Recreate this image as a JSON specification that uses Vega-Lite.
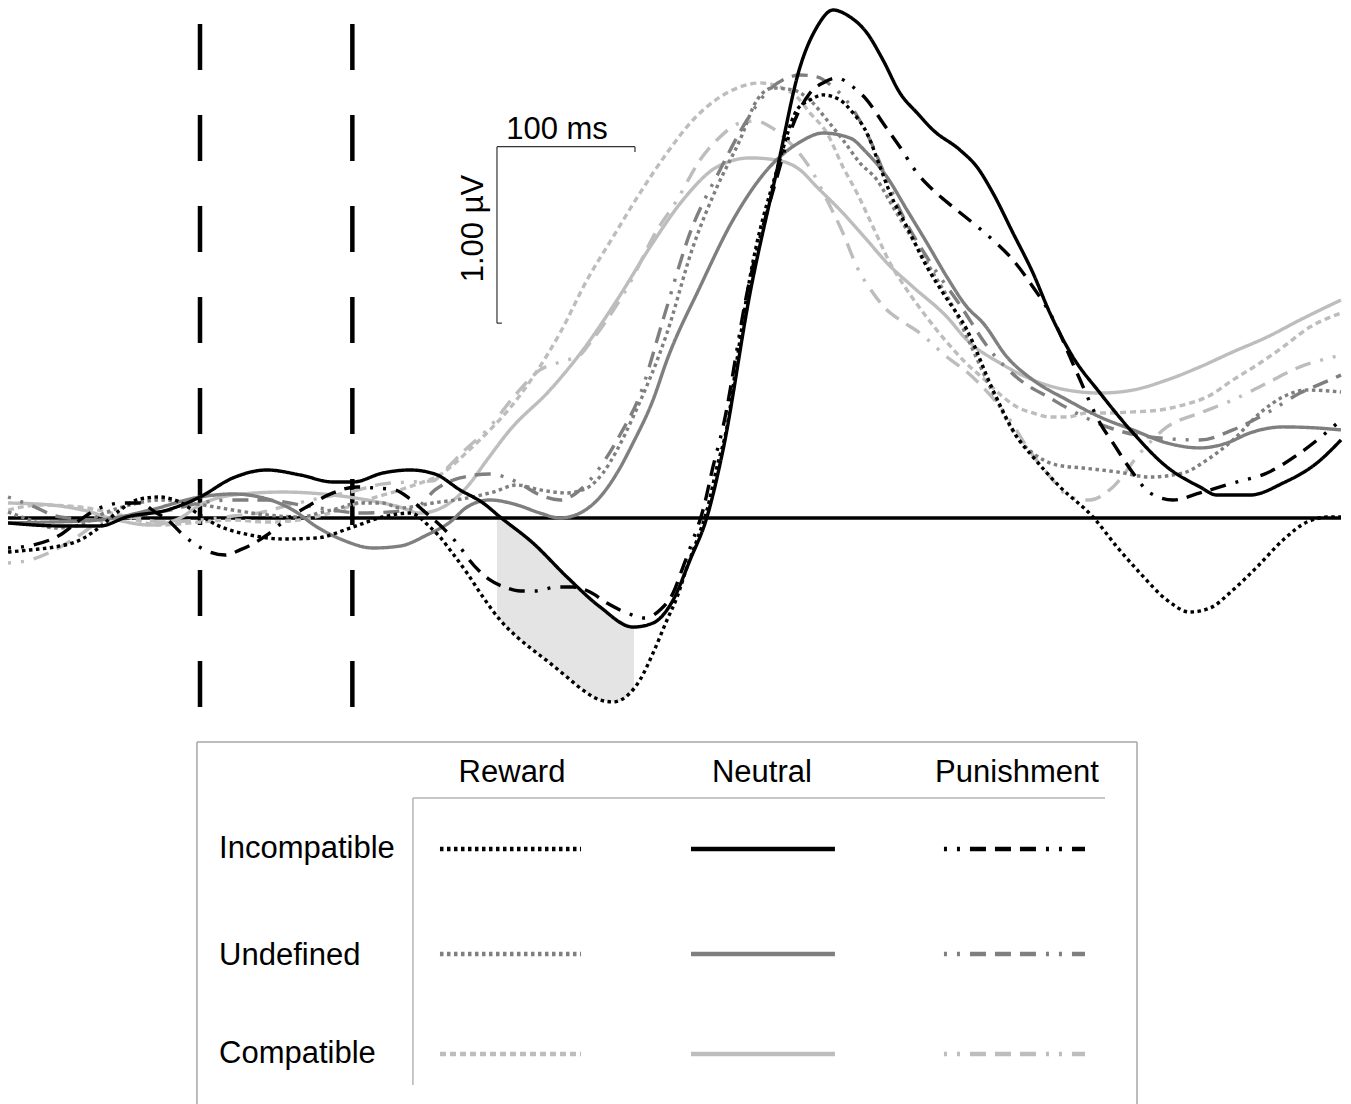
{
"$schema": "https://vega.github.io/schema/vega-lite/v6.json",
"width": 1351, "height": 1104, "autosize": "none", "padding": 0,
"background": "white",
"config": {"view": {"stroke": null}},
"datasets": {
"curves": [
{"s":"Compatible Reward","x":-139.1,"y":0.045},{"s":"Compatible Reward","x":-115.9,"y":0.074},{"s":"Compatible Reward","x":-87.0,"y":0.062},{"s":"Compatible Reward","x":-58.0,"y":0.017},{"s":"Compatible Reward","x":-29.0,"y":-0.040},{"s":"Compatible Reward","x":0,"y":-0.023},{"s":"Compatible Reward","x":23.9,"y":-0.011},{"s":"Compatible Reward","x":48.6,"y":-0.023},{"s":"Compatible Reward","x":72.5,"y":-0.011},{"s":"Compatible Reward","x":96.4,"y":0.034},{"s":"Compatible Reward","x":121.0,"y":0.102},{"s":"Compatible Reward","x":144.9,"y":0.159},{"s":"Compatible Reward","x":159.4,"y":0.198},{"s":"Compatible Reward","x":173.9,"y":0.244},{"s":"Compatible Reward","x":183.3,"y":0.300},{"s":"Compatible Reward","x":193.5,"y":0.374},{"s":"Compatible Reward","x":210.1,"y":0.499},{"s":"Compatible Reward","x":224.6,"y":0.623},{"s":"Compatible Reward","x":241.3,"y":0.799},{"s":"Compatible Reward","x":260.9,"y":1.048},{"s":"Compatible Reward","x":280.4,"y":1.348},{"s":"Compatible Reward","x":299.3,"y":1.592},{"s":"Compatible Reward","x":318.8,"y":1.841},{"s":"Compatible Reward","x":338.4,"y":2.068},{"s":"Compatible Reward","x":357.2,"y":2.255},{"s":"Compatible Reward","x":376.8,"y":2.385},{"s":"Compatible Reward","x":391.3,"y":2.442},{"s":"Compatible Reward","x":405.8,"y":2.465},{"s":"Compatible Reward","x":420.3,"y":2.442},{"s":"Compatible Reward","x":432.6,"y":2.385},{"s":"Compatible Reward","x":442.0,"y":2.295},{"s":"Compatible Reward","x":454.3,"y":2.181},{"s":"Compatible Reward","x":465.9,"y":1.989},{"s":"Compatible Reward","x":476.1,"y":1.841},{"s":"Compatible Reward","x":487.7,"y":1.649},{"s":"Compatible Reward","x":500.0,"y":1.445},{"s":"Compatible Reward","x":512.3,"y":1.292},{"s":"Compatible Reward","x":525.4,"y":1.150},{"s":"Compatible Reward","x":539.9,"y":1.008},{"s":"Compatible Reward","x":554.3,"y":0.884},{"s":"Compatible Reward","x":568.8,"y":0.782},{"s":"Compatible Reward","x":581.9,"y":0.686},{"s":"Compatible Reward","x":592.0,"y":0.629},{"s":"Compatible Reward","x":603.6,"y":0.595},{"s":"Compatible Reward","x":615.9,"y":0.572},{"s":"Compatible Reward","x":628.3,"y":0.572},{"s":"Compatible Reward","x":642.7,"y":0.595},{"s":"Compatible Reward","x":657.2,"y":0.595},{"s":"Compatible Reward","x":676.1,"y":0.601},{"s":"Compatible Reward","x":695.7,"y":0.612},{"s":"Compatible Reward","x":712.3,"y":0.640},{"s":"Compatible Reward","x":729.7,"y":0.686},{"s":"Compatible Reward","x":748.5,"y":0.782},{"s":"Compatible Reward","x":768.1,"y":0.878},{"s":"Compatible Reward","x":784.8,"y":0.969},{"s":"Compatible Reward","x":804.3,"y":1.082},{"s":"Compatible Reward","x":826.8,"y":1.161},

{"s":"Compatible Neutral","x":-139.1,"y":0.085},{"s":"Compatible Neutral","x":-108.7,"y":0.074},{"s":"Compatible Neutral","x":-84.8,"y":0.045},{"s":"Compatible Neutral","x":-60.1,"y":-0.011},{"s":"Compatible Neutral","x":-36.2,"y":-0.040},{"s":"Compatible Neutral","x":-14.5,"y":0},{"s":"Compatible Neutral","x":0,"y":0.074},{"s":"Compatible Neutral","x":23.9,"y":0.130},{"s":"Compatible Neutral","x":60.1,"y":0.147},{"s":"Compatible Neutral","x":96.4,"y":0.130},{"s":"Compatible Neutral","x":121.0,"y":0.102},{"s":"Compatible Neutral","x":144.9,"y":0.062},{"s":"Compatible Neutral","x":159.4,"y":0.028},{"s":"Compatible Neutral","x":176.1,"y":0.062},{"s":"Compatible Neutral","x":193.5,"y":0.176},{"s":"Compatible Neutral","x":208.0,"y":0.329},{"s":"Compatible Neutral","x":224.6,"y":0.499},{"s":"Compatible Neutral","x":253.6,"y":0.725},{"s":"Compatible Neutral","x":277.5,"y":0.952},{"s":"Compatible Neutral","x":302.2,"y":1.235},{"s":"Compatible Neutral","x":326.1,"y":1.535},{"s":"Compatible Neutral","x":350.0,"y":1.802},{"s":"Compatible Neutral","x":374.6,"y":1.989},{"s":"Compatible Neutral","x":398.6,"y":2.040},{"s":"Compatible Neutral","x":418.1,"y":2.028},{"s":"Compatible Neutral","x":434.8,"y":1.972},{"s":"Compatible Neutral","x":447.1,"y":1.875},{"s":"Compatible Neutral","x":465.9,"y":1.728},{"s":"Compatible Neutral","x":483.3,"y":1.575},{"s":"Compatible Neutral","x":497.8,"y":1.445},{"s":"Compatible Neutral","x":516.7,"y":1.309},{"s":"Compatible Neutral","x":541.3,"y":1.139},{"s":"Compatible Neutral","x":555.8,"y":1.008},{"s":"Compatible Neutral","x":579.7,"y":0.878},{"s":"Compatible Neutral","x":603.6,"y":0.782},{"s":"Compatible Neutral","x":628.3,"y":0.725},{"s":"Compatible Neutral","x":652.2,"y":0.708},{"s":"Compatible Neutral","x":676.1,"y":0.725},{"s":"Compatible Neutral","x":700.7,"y":0.782},{"s":"Compatible Neutral","x":724.6,"y":0.856},{"s":"Compatible Neutral","x":748.5,"y":0.941},{"s":"Compatible Neutral","x":773.2,"y":1.025},{"s":"Compatible Neutral","x":797.1,"y":1.122},{"s":"Compatible Neutral","x":826.8,"y":1.235},

{"s":"Compatible Punishment","x":-139.1,"y":-0.255},{"s":"Compatible Punishment","x":-123.2,"y":-0.238},{"s":"Compatible Punishment","x":-105.1,"y":-0.181},{"s":"Compatible Punishment","x":-87.0,"y":-0.096},{"s":"Compatible Punishment","x":-72.5,"y":-0.023},{"s":"Compatible Punishment","x":-50.7,"y":0.006},{"s":"Compatible Punishment","x":-29.0,"y":-0.023},{"s":"Compatible Punishment","x":0,"y":-0.011},{"s":"Compatible Punishment","x":23.9,"y":0.011},{"s":"Compatible Punishment","x":42.0,"y":0.028},{"s":"Compatible Punishment","x":65.2,"y":0.074},{"s":"Compatible Punishment","x":87.0,"y":0.113},{"s":"Compatible Punishment","x":108.7,"y":0.147},{"s":"Compatible Punishment","x":132.6,"y":0.193},{"s":"Compatible Punishment","x":152.2,"y":0.204},{"s":"Compatible Punishment","x":168.8,"y":0.210},{"s":"Compatible Punishment","x":177.5,"y":0.272},{"s":"Compatible Punishment","x":192.0,"y":0.385},{"s":"Compatible Punishment","x":208.0,"y":0.499},{"s":"Compatible Punishment","x":229.7,"y":0.708},{"s":"Compatible Punishment","x":246.4,"y":0.839},{"s":"Compatible Punishment","x":260.9,"y":0.884},{"s":"Compatible Punishment","x":275.4,"y":0.924},{"s":"Compatible Punishment","x":282.6,"y":0.992},{"s":"Compatible Punishment","x":313.8,"y":1.365},{"s":"Compatible Punishment","x":328.3,"y":1.592},{"s":"Compatible Punishment","x":345.7,"y":1.802},{"s":"Compatible Punishment","x":362.3,"y":2.028},{"s":"Compatible Punishment","x":376.8,"y":2.159},{"s":"Compatible Punishment","x":391.3,"y":2.238},{"s":"Compatible Punishment","x":403.6,"y":2.249},{"s":"Compatible Punishment","x":410.9,"y":2.227},{"s":"Compatible Punishment","x":425.4,"y":2.142},{"s":"Compatible Punishment","x":444.2,"y":1.955},{"s":"Compatible Punishment","x":454.3,"y":1.802},{"s":"Compatible Punishment","x":465.9,"y":1.615},{"s":"Compatible Punishment","x":476.1,"y":1.422},{"s":"Compatible Punishment","x":487.7,"y":1.275},{"s":"Compatible Punishment","x":497.8,"y":1.178},{"s":"Compatible Punishment","x":507.2,"y":1.122},{"s":"Compatible Punishment","x":521.7,"y":1.048},{"s":"Compatible Punishment","x":541.3,"y":0.912},{"s":"Compatible Punishment","x":555.8,"y":0.827},{"s":"Compatible Punishment","x":572.5,"y":0.697},{"s":"Compatible Punishment","x":587.0,"y":0.555},{"s":"Compatible Punishment","x":599.3,"y":0.402},{"s":"Compatible Punishment","x":613.8,"y":0.255},{"s":"Compatible Punishment","x":630.4,"y":0.119},{"s":"Compatible Punishment","x":644.9,"y":0.102},{"s":"Compatible Punishment","x":661.6,"y":0.176},{"s":"Compatible Punishment","x":681.2,"y":0.368},{"s":"Compatible Punishment","x":700.7,"y":0.516},{"s":"Compatible Punishment","x":724.6,"y":0.595},{"s":"Compatible Punishment","x":748.5,"y":0.669},{"s":"Compatible Punishment","x":773.2,"y":0.765},{"s":"Compatible Punishment","x":797.1,"y":0.856},{"s":"Compatible Punishment","x":821.0,"y":0.912},{"s":"Compatible Punishment","x":826.8,"y":0.924},

{"s":"Undefined Reward","x":-139.1,"y":0.034},{"s":"Undefined Reward","x":-123.2,"y":-0.011},{"s":"Undefined Reward","x":-105.1,"y":-0.057},{"s":"Undefined Reward","x":-87.0,"y":-0.040},{"s":"Undefined Reward","x":-72.5,"y":0.017},{"s":"Undefined Reward","x":-50.7,"y":0.074},{"s":"Undefined Reward","x":-29.0,"y":0.102},{"s":"Undefined Reward","x":-7.2,"y":0.085},{"s":"Undefined Reward","x":23.9,"y":0.045},{"s":"Undefined Reward","x":48.6,"y":0.017},{"s":"Undefined Reward","x":72.5,"y":0.006},{"s":"Undefined Reward","x":89.1,"y":0.034},{"s":"Undefined Reward","x":101.4,"y":0.057},{"s":"Undefined Reward","x":113.8,"y":0.085},{"s":"Undefined Reward","x":132.6,"y":0.085},{"s":"Undefined Reward","x":144.9,"y":0.057},{"s":"Undefined Reward","x":168.8,"y":0.085},{"s":"Undefined Reward","x":193.5,"y":0.113},{"s":"Undefined Reward","x":212.3,"y":0.147},{"s":"Undefined Reward","x":229.7,"y":0.187},{"s":"Undefined Reward","x":246.4,"y":0.159},{"s":"Undefined Reward","x":265.9,"y":0.142},{"s":"Undefined Reward","x":280.4,"y":0.170},{"s":"Undefined Reward","x":292.0,"y":0.255},{"s":"Undefined Reward","x":302.2,"y":0.385},{"s":"Undefined Reward","x":313.8,"y":0.572},{"s":"Undefined Reward","x":338.4,"y":1.048},{"s":"Undefined Reward","x":357.2,"y":1.535},{"s":"Undefined Reward","x":374.6,"y":1.875},{"s":"Undefined Reward","x":391.3,"y":2.142},{"s":"Undefined Reward","x":403.6,"y":2.368},{"s":"Undefined Reward","x":415.2,"y":2.436},{"s":"Undefined Reward","x":429.7,"y":2.425},{"s":"Undefined Reward","x":442.0,"y":2.368},{"s":"Undefined Reward","x":454.3,"y":2.255},{"s":"Undefined Reward","x":465.9,"y":2.142},{"s":"Undefined Reward","x":478.3,"y":2.011},{"s":"Undefined Reward","x":490.6,"y":1.915},{"s":"Undefined Reward","x":502.2,"y":1.762},{"s":"Undefined Reward","x":516.7,"y":1.575},{"s":"Undefined Reward","x":531.2,"y":1.388},{"s":"Undefined Reward","x":545.7,"y":1.195},{"s":"Undefined Reward","x":555.8,"y":1.025},{"s":"Undefined Reward","x":574.6,"y":0.708},{"s":"Undefined Reward","x":592.0,"y":0.459},{"s":"Undefined Reward","x":603.6,"y":0.368},{"s":"Undefined Reward","x":621.0,"y":0.300},{"s":"Undefined Reward","x":639.9,"y":0.283},{"s":"Undefined Reward","x":664.5,"y":0.261},{"s":"Undefined Reward","x":688.4,"y":0.232},{"s":"Undefined Reward","x":712.3,"y":0.255},{"s":"Undefined Reward","x":729.7,"y":0.329},{"s":"Undefined Reward","x":748.5,"y":0.442},{"s":"Undefined Reward","x":768.1,"y":0.595},{"s":"Undefined Reward","x":784.8,"y":0.686},{"s":"Undefined Reward","x":802.2,"y":0.725},{"s":"Undefined Reward","x":826.8,"y":0.714},

{"s":"Undefined Neutral","x":-139.1,"y":-0.028},{"s":"Undefined Neutral","x":-108.7,"y":-0.023},{"s":"Undefined Neutral","x":-72.5,"y":-0.011},{"s":"Undefined Neutral","x":-36.2,"y":0.045},{"s":"Undefined Neutral","x":0,"y":0.119},{"s":"Undefined Neutral","x":23.9,"y":0.136},{"s":"Undefined Neutral","x":48.6,"y":0.108},{"s":"Undefined Neutral","x":67.4,"y":0.045},{"s":"Undefined Neutral","x":84.8,"y":-0.051},{"s":"Undefined Neutral","x":103.6,"y":-0.125},{"s":"Undefined Neutral","x":125.4,"y":-0.170},{"s":"Undefined Neutral","x":144.9,"y":-0.159},{"s":"Undefined Neutral","x":164.5,"y":-0.096},{"s":"Undefined Neutral","x":181.2,"y":-0.023},{"s":"Undefined Neutral","x":193.5,"y":0.062},{"s":"Undefined Neutral","x":210.1,"y":0.102},{"s":"Undefined Neutral","x":229.7,"y":0.074},{"s":"Undefined Neutral","x":246.4,"y":0.028},{"s":"Undefined Neutral","x":260.9,"y":0},{"s":"Undefined Neutral","x":275.4,"y":0.028},{"s":"Undefined Neutral","x":289.9,"y":0.119},{"s":"Undefined Neutral","x":302.2,"y":0.255},{"s":"Undefined Neutral","x":313.8,"y":0.425},{"s":"Undefined Neutral","x":328.3,"y":0.669},{"s":"Undefined Neutral","x":338.4,"y":0.895},{"s":"Undefined Neutral","x":362.3,"y":1.309},{"s":"Undefined Neutral","x":386.2,"y":1.688},{"s":"Undefined Neutral","x":410.9,"y":1.972},{"s":"Undefined Neutral","x":434.8,"y":2.130},{"s":"Undefined Neutral","x":451.4,"y":2.181},{"s":"Undefined Neutral","x":471.0,"y":2.153},{"s":"Undefined Neutral","x":483.3,"y":2.068},{"s":"Undefined Neutral","x":497.8,"y":1.932},{"s":"Undefined Neutral","x":512.3,"y":1.745},{"s":"Undefined Neutral","x":526.8,"y":1.558},{"s":"Undefined Neutral","x":541.3,"y":1.365},{"s":"Undefined Neutral","x":555.8,"y":1.195},{"s":"Undefined Neutral","x":567.4,"y":1.105},{"s":"Undefined Neutral","x":584.8,"y":0.912},{"s":"Undefined Neutral","x":603.6,"y":0.782},{"s":"Undefined Neutral","x":628.3,"y":0.669},{"s":"Undefined Neutral","x":652.2,"y":0.572},{"s":"Undefined Neutral","x":676.1,"y":0.499},{"s":"Undefined Neutral","x":700.7,"y":0.425},{"s":"Undefined Neutral","x":724.6,"y":0.397},{"s":"Undefined Neutral","x":744.2,"y":0.425},{"s":"Undefined Neutral","x":760.9,"y":0.482},{"s":"Undefined Neutral","x":784.8,"y":0.516},{"s":"Undefined Neutral","x":809.4,"y":0.510},{"s":"Undefined Neutral","x":826.8,"y":0.499},

{"s":"Undefined Punishment","x":-139.1,"y":0.119},{"s":"Undefined Punishment","x":-123.2,"y":0.074},{"s":"Undefined Punishment","x":-101.4,"y":0.006},{"s":"Undefined Punishment","x":-72.5,"y":-0.011},{"s":"Undefined Punishment","x":-43.5,"y":0.017},{"s":"Undefined Punishment","x":-21.7,"y":0.045},{"s":"Undefined Punishment","x":0,"y":0.085},{"s":"Undefined Punishment","x":23.9,"y":0.102},{"s":"Undefined Punishment","x":48.6,"y":0.102},{"s":"Undefined Punishment","x":72.5,"y":0.074},{"s":"Undefined Punishment","x":96.4,"y":0.045},{"s":"Undefined Punishment","x":115.9,"y":0.028},{"s":"Undefined Punishment","x":137.7,"y":0.034},{"s":"Undefined Punishment","x":157.2,"y":0.062},{"s":"Undefined Punishment","x":170.3,"y":0.159},{"s":"Undefined Punishment","x":188.4,"y":0.227},{"s":"Undefined Punishment","x":210.1,"y":0.249},{"s":"Undefined Punishment","x":229.7,"y":0.204},{"s":"Undefined Punishment","x":246.4,"y":0.130},{"s":"Undefined Punishment","x":260.9,"y":0.102},{"s":"Undefined Punishment","x":271.7,"y":0.136},{"s":"Undefined Punishment","x":282.6,"y":0.215},{"s":"Undefined Punishment","x":293.5,"y":0.329},{"s":"Undefined Punishment","x":304.3,"y":0.470},{"s":"Undefined Punishment","x":318.8,"y":0.697},{"s":"Undefined Punishment","x":335.5,"y":1.122},{"s":"Undefined Punishment","x":355.1,"y":1.615},{"s":"Undefined Punishment","x":376.8,"y":1.972},{"s":"Undefined Punishment","x":396.4,"y":2.255},{"s":"Undefined Punishment","x":410.9,"y":2.414},{"s":"Undefined Punishment","x":425.4,"y":2.493},{"s":"Undefined Punishment","x":434.8,"y":2.510},{"s":"Undefined Punishment","x":447.1,"y":2.499},{"s":"Undefined Punishment","x":458.7,"y":2.442},{"s":"Undefined Punishment","x":471.0,"y":2.340},{"s":"Undefined Punishment","x":485.5,"y":2.142},{"s":"Undefined Punishment","x":497.8,"y":1.915},{"s":"Undefined Punishment","x":507.2,"y":1.745},{"s":"Undefined Punishment","x":529.0,"y":1.450},{"s":"Undefined Punishment","x":550.7,"y":1.207},{"s":"Undefined Punishment","x":572.5,"y":0.952},{"s":"Undefined Punishment","x":594.2,"y":0.782},{"s":"Undefined Punishment","x":615.9,"y":0.680},{"s":"Undefined Punishment","x":637.7,"y":0.584},{"s":"Undefined Punishment","x":659.4,"y":0.510},{"s":"Undefined Punishment","x":688.4,"y":0.459},{"s":"Undefined Punishment","x":724.6,"y":0.442},{"s":"Undefined Punishment","x":748.5,"y":0.499},{"s":"Undefined Punishment","x":773.2,"y":0.595},{"s":"Undefined Punishment","x":797.1,"y":0.708},{"s":"Undefined Punishment","x":818.8,"y":0.782},{"s":"Undefined Punishment","x":826.8,"y":0.810},

{"s":"Incompatible Reward","x":-139.1,"y":-0.193},{"s":"Incompatible Reward","x":-123.2,"y":-0.181},{"s":"Incompatible Reward","x":-105.1,"y":-0.164},{"s":"Incompatible Reward","x":-87.0,"y":-0.125},{"s":"Incompatible Reward","x":-72.5,"y":-0.051},{"s":"Incompatible Reward","x":-58.0,"y":0.045},{"s":"Incompatible Reward","x":-43.5,"y":0.108},{"s":"Incompatible Reward","x":-29.0,"y":0.119},{"s":"Incompatible Reward","x":-18.1,"y":0.102},{"s":"Incompatible Reward","x":0,"y":0.017},{"s":"Incompatible Reward","x":12.3,"y":-0.040},{"s":"Incompatible Reward","x":36.2,"y":-0.096},{"s":"Incompatible Reward","x":60.1,"y":-0.119},{"s":"Incompatible Reward","x":84.8,"y":-0.113},{"s":"Incompatible Reward","x":108.7,"y":-0.057},{"s":"Incompatible Reward","x":132.6,"y":0.006},{"s":"Incompatible Reward","x":152.2,"y":0.028},{"s":"Incompatible Reward","x":166.7,"y":-0.051},{"s":"Incompatible Reward","x":173.9,"y":-0.108},{"s":"Incompatible Reward","x":181.2,"y":-0.181},{"s":"Incompatible Reward","x":193.5,"y":-0.312},{"s":"Incompatible Reward","x":205.1,"y":-0.448},{"s":"Incompatible Reward","x":217.4,"y":-0.578},{"s":"Incompatible Reward","x":229.7,"y":-0.674},{"s":"Incompatible Reward","x":241.3,"y":-0.748},{"s":"Incompatible Reward","x":253.6,"y":-0.822},{"s":"Incompatible Reward","x":265.9,"y":-0.901},{"s":"Incompatible Reward","x":277.5,"y":-0.975},{"s":"Incompatible Reward","x":289.9,"y":-1.031},{"s":"Incompatible Reward","x":299.3,"y":-1.042},{"s":"Incompatible Reward","x":311.6,"y":-0.992},{"s":"Incompatible Reward","x":318.8,"y":-0.918},{"s":"Incompatible Reward","x":328.3,"y":-0.765},{"s":"Incompatible Reward","x":338.4,"y":-0.578},{"s":"Incompatible Reward","x":345.7,"y":-0.448},{"s":"Incompatible Reward","x":352.9,"y":-0.278},{"s":"Incompatible Reward","x":360.1,"y":-0.125},{"s":"Incompatible Reward","x":367.4,"y":0.045},{"s":"Incompatible Reward","x":374.6,"y":0.289},{"s":"Incompatible Reward","x":381.9,"y":0.516},{"s":"Incompatible Reward","x":389.1,"y":0.895},{"s":"Incompatible Reward","x":398.6,"y":1.365},{"s":"Incompatible Reward","x":418.1,"y":1.972},{"s":"Incompatible Reward","x":432.6,"y":2.312},{"s":"Incompatible Reward","x":442.0,"y":2.368},{"s":"Incompatible Reward","x":451.4,"y":2.397},{"s":"Incompatible Reward","x":463.8,"y":2.368},{"s":"Incompatible Reward","x":473.2,"y":2.295},{"s":"Incompatible Reward","x":483.3,"y":2.181},{"s":"Incompatible Reward","x":492.8,"y":1.989},{"s":"Incompatible Reward","x":500.0,"y":1.841},{"s":"Incompatible Reward","x":512.3,"y":1.649},{"s":"Incompatible Reward","x":526.8,"y":1.422},{"s":"Incompatible Reward","x":538.4,"y":1.275},{"s":"Incompatible Reward","x":555.8,"y":1.065},{"s":"Incompatible Reward","x":574.6,"y":0.725},{"s":"Incompatible Reward","x":592.0,"y":0.459},{"s":"Incompatible Reward","x":603.6,"y":0.346},{"s":"Incompatible Reward","x":623.2,"y":0.176},{"s":"Incompatible Reward","x":647.1,"y":0.006},{"s":"Incompatible Reward","x":664.5,"y":-0.164},{"s":"Incompatible Reward","x":681.2,"y":-0.312},{"s":"Incompatible Reward","x":700.7,"y":-0.465},{"s":"Incompatible Reward","x":717.4,"y":-0.533},{"s":"Incompatible Reward","x":731.9,"y":-0.510},{"s":"Incompatible Reward","x":748.5,"y":-0.408},{"s":"Incompatible Reward","x":765.9,"y":-0.278},{"s":"Incompatible Reward","x":784.8,"y":-0.125},{"s":"Incompatible Reward","x":802.2,"y":-0.023},{"s":"Incompatible Reward","x":818.8,"y":0.006},{"s":"Incompatible Reward","x":826.8,"y":0.006},

{"s":"Incompatible Neutral","x":-139.1,"y":-0.028},{"s":"Incompatible Neutral","x":-101.4,"y":-0.045},{"s":"Incompatible Neutral","x":-72.5,"y":-0.045},{"s":"Incompatible Neutral","x":-52.9,"y":0.006},{"s":"Incompatible Neutral","x":-23.9,"y":0.045},{"s":"Incompatible Neutral","x":0,"y":0.119},{"s":"Incompatible Neutral","x":23.9,"y":0.227},{"s":"Incompatible Neutral","x":48.6,"y":0.272},{"s":"Incompatible Neutral","x":72.5,"y":0.244},{"s":"Incompatible Neutral","x":96.4,"y":0.204},{"s":"Incompatible Neutral","x":110.9,"y":0.204},{"s":"Incompatible Neutral","x":132.6,"y":0.255},{"s":"Incompatible Neutral","x":152.2,"y":0.272},{"s":"Incompatible Neutral","x":170.3,"y":0.249},{"s":"Incompatible Neutral","x":188.4,"y":0.159},{"s":"Incompatible Neutral","x":205.1,"y":0.085},{"s":"Incompatible Neutral","x":217.4,"y":0.006},{"s":"Incompatible Neutral","x":241.3,"y":-0.142},{"s":"Incompatible Neutral","x":265.9,"y":-0.334},{"s":"Incompatible Neutral","x":289.9,"y":-0.504},{"s":"Incompatible Neutral","x":313.8,"y":-0.618},{"s":"Incompatible Neutral","x":328.3,"y":-0.595},{"s":"Incompatible Neutral","x":342.8,"y":-0.465},{"s":"Incompatible Neutral","x":355.1,"y":-0.238},{"s":"Incompatible Neutral","x":367.4,"y":0.006},{"s":"Incompatible Neutral","x":379.0,"y":0.385},{"s":"Incompatible Neutral","x":398.6,"y":1.275},{"s":"Incompatible Neutral","x":418.1,"y":1.972},{"s":"Incompatible Neutral","x":434.8,"y":2.555},{"s":"Incompatible Neutral","x":447.1,"y":2.782},{"s":"Incompatible Neutral","x":458.7,"y":2.878},{"s":"Incompatible Neutral","x":471.0,"y":2.839},{"s":"Incompatible Neutral","x":483.3,"y":2.748},{"s":"Incompatible Neutral","x":494.9,"y":2.595},{"s":"Incompatible Neutral","x":507.2,"y":2.408},{"s":"Incompatible Neutral","x":519.6,"y":2.295},{"s":"Incompatible Neutral","x":531.2,"y":2.198},{"s":"Incompatible Neutral","x":550.7,"y":2.085},{"s":"Incompatible Neutral","x":563.0,"y":1.989},{"s":"Incompatible Neutral","x":574.6,"y":1.841},{"s":"Incompatible Neutral","x":589.1,"y":1.615},{"s":"Incompatible Neutral","x":603.6,"y":1.388},{"s":"Incompatible Neutral","x":615.9,"y":1.161},{"s":"Incompatible Neutral","x":632.6,"y":0.912},{"s":"Incompatible Neutral","x":652.2,"y":0.708},{"s":"Incompatible Neutral","x":676.1,"y":0.482},{"s":"Incompatible Neutral","x":700.7,"y":0.289},{"s":"Incompatible Neutral","x":724.6,"y":0.176},{"s":"Incompatible Neutral","x":736.9,"y":0.130},{"s":"Incompatible Neutral","x":760.9,"y":0.130},{"s":"Incompatible Neutral","x":784.8,"y":0.198},{"s":"Incompatible Neutral","x":809.4,"y":0.312},{"s":"Incompatible Neutral","x":826.8,"y":0.442},

{"s":"Incompatible Punishment","x":-139.1,"y":-0.170},{"s":"Incompatible Punishment","x":-121.0,"y":-0.153},{"s":"Incompatible Punishment","x":-101.4,"y":-0.096},{"s":"Incompatible Punishment","x":-87.0,"y":-0.011},{"s":"Incompatible Punishment","x":-72.5,"y":0.057},{"s":"Incompatible Punishment","x":-55.8,"y":0.085},{"s":"Incompatible Punishment","x":-43.5,"y":0.085},{"s":"Incompatible Punishment","x":-32.6,"y":0.034},{"s":"Incompatible Punishment","x":-21.7,"y":-0.023},{"s":"Incompatible Punishment","x":-14.5,"y":-0.079},{"s":"Incompatible Punishment","x":-5.8,"y":-0.136},{"s":"Incompatible Punishment","x":7.2,"y":-0.193},{"s":"Incompatible Punishment","x":18.1,"y":-0.210},{"s":"Incompatible Punishment","x":29.0,"y":-0.181},{"s":"Incompatible Punishment","x":48.6,"y":-0.096},{"s":"Incompatible Punishment","x":60.1,"y":-0.023},{"s":"Incompatible Punishment","x":79.7,"y":0.074},{"s":"Incompatible Punishment","x":96.4,"y":0.142},{"s":"Incompatible Punishment","x":113.8,"y":0.176},{"s":"Incompatible Punishment","x":126.8,"y":0.170},{"s":"Incompatible Punishment","x":141.3,"y":0.159},{"s":"Incompatible Punishment","x":152.2,"y":0.108},{"s":"Incompatible Punishment","x":163.0,"y":0.034},{"s":"Incompatible Punishment","x":176.1,"y":-0.057},{"s":"Incompatible Punishment","x":188.4,"y":-0.164},{"s":"Incompatible Punishment","x":193.5,"y":-0.221},{"s":"Incompatible Punishment","x":210.1,"y":-0.351},{"s":"Incompatible Punishment","x":222.5,"y":-0.397},{"s":"Incompatible Punishment","x":231.9,"y":-0.414},{"s":"Incompatible Punishment","x":242.8,"y":-0.414},{"s":"Incompatible Punishment","x":258.7,"y":-0.391},{"s":"Incompatible Punishment","x":270.3,"y":-0.391},{"s":"Incompatible Punishment","x":282.6,"y":-0.419},{"s":"Incompatible Punishment","x":294.9,"y":-0.482},{"s":"Incompatible Punishment","x":309.4,"y":-0.538},{"s":"Incompatible Punishment","x":322.5,"y":-0.567},{"s":"Incompatible Punishment","x":333.3,"y":-0.521},{"s":"Incompatible Punishment","x":342.8,"y":-0.425},{"s":"Incompatible Punishment","x":350.0,"y":-0.278},{"s":"Incompatible Punishment","x":357.2,"y":-0.125},{"s":"Incompatible Punishment","x":364.5,"y":0.045},{"s":"Incompatible Punishment","x":371.7,"y":0.289},{"s":"Incompatible Punishment","x":379.0,"y":0.516},{"s":"Incompatible Punishment","x":396.4,"y":1.275},{"s":"Incompatible Punishment","x":418.1,"y":1.932},{"s":"Incompatible Punishment","x":427.5,"y":2.181},{"s":"Incompatible Punishment","x":442.0,"y":2.408},{"s":"Incompatible Punishment","x":451.4,"y":2.465},{"s":"Incompatible Punishment","x":461.6,"y":2.493},{"s":"Incompatible Punishment","x":473.2,"y":2.442},{"s":"Incompatible Punishment","x":483.3,"y":2.368},{"s":"Incompatible Punishment","x":494.9,"y":2.238},{"s":"Incompatible Punishment","x":507.2,"y":2.102},{"s":"Incompatible Punishment","x":519.6,"y":1.955},{"s":"Incompatible Punishment","x":531.2,"y":1.858},{"s":"Incompatible Punishment","x":545.7,"y":1.762},{"s":"Incompatible Punishment","x":560.1,"y":1.671},{"s":"Incompatible Punishment","x":574.6,"y":1.575},{"s":"Incompatible Punishment","x":589.1,"y":1.462},{"s":"Incompatible Punishment","x":603.6,"y":1.309},{"s":"Incompatible Punishment","x":615.9,"y":1.161},{"s":"Incompatible Punishment","x":635.5,"y":0.822},{"s":"Incompatible Punishment","x":652.2,"y":0.538},{"s":"Incompatible Punishment","x":661.6,"y":0.425},{"s":"Incompatible Punishment","x":676.1,"y":0.255},{"s":"Incompatible Punishment","x":688.4,"y":0.142},{"s":"Incompatible Punishment","x":705.1,"y":0.102},{"s":"Incompatible Punishment","x":724.6,"y":0.142},{"s":"Incompatible Punishment","x":748.5,"y":0.198},{"s":"Incompatible Punishment","x":773.2,"y":0.255},{"s":"Incompatible Punishment","x":797.1,"y":0.368},{"s":"Incompatible Punishment","x":821.0,"y":0.516},{"s":"Incompatible Punishment","x":826.8,"y":0.555}
],
"shade": [
{"x":215.2,"lo":-0.561,"hi":0.017},{"x":229.7,"lo":-0.674,"hi":-0.068},{"x":241.3,"lo":-0.748,"hi":-0.142},{"x":253.6,"lo":-0.822,"hi":-0.238},{"x":265.9,"lo":-0.901,"hi":-0.334},{"x":277.5,"lo":-0.975,"hi":-0.419},{"x":289.9,"lo":-1.031,"hi":-0.504},{"x":302.2,"lo":-1.042,"hi":-0.567},{"x":314.5,"lo":-0.963,"hi":-0.618}
],
"keys": [
{"s":"Incompatible Reward","x":173.9,"y":-1.875},{"s":"Incompatible Reward","x":276.1,"y":-1.875},
{"s":"Incompatible Neutral","x":355.8,"y":-1.875},{"s":"Incompatible Neutral","x":460.1,"y":-1.875},
{"s":"Incompatible Punishment","x":539.1,"y":-1.875},{"s":"Incompatible Punishment","x":641.3,"y":-1.875},
{"s":"Undefined Reward","x":173.9,"y":-2.470},{"s":"Undefined Reward","x":276.1,"y":-2.470},
{"s":"Undefined Neutral","x":355.8,"y":-2.470},{"s":"Undefined Neutral","x":460.1,"y":-2.470},
{"s":"Undefined Punishment","x":539.1,"y":-2.470},{"s":"Undefined Punishment","x":641.3,"y":-2.470},
{"s":"Compatible Reward","x":173.9,"y":-3.037},{"s":"Compatible Reward","x":276.1,"y":-3.037},
{"s":"Compatible Neutral","x":355.8,"y":-3.037},{"s":"Compatible Neutral","x":460.1,"y":-3.037},
{"s":"Compatible Punishment","x":539.1,"y":-3.037},{"s":"Compatible Punishment","x":641.3,"y":-3.037}
]
},
"layer": [
{"data":{"name":"shade"},"mark":{"type":"area","color":"#e4e4e4","interpolate":"monotone"},
 "encoding":{"x":{"field":"x","type":"quantitative","axis":null,"scale":{"domain":[-144.928,834.058],"nice":false,"zero":false}},
 "y":{"field":"lo","type":"quantitative","axis":null,"scale":{"domain":[-3.3201,2.9348],"nice":false,"zero":false}},
 "y2":{"field":"hi"}}},
{"data":{"values":[{"x":-139.1,"x2":826.8,"y":0}]},"mark":{"type":"rule","color":"#000000","strokeWidth":3.5},
 "encoding":{"x":{"field":"x","type":"quantitative"},"x2":{"field":"x2"},"y":{"field":"y","type":"quantitative"}}},
{"data":{"values":[{"x":0,"y":2.799,"y2":-1.071},{"x":110.4,"y":2.799,"y2":-1.071}]},"mark":{"type":"rule","color":"#000000","strokeWidth":4.5,"strokeDash":[46,45]},
 "encoding":{"x":{"field":"x","type":"quantitative"},"y":{"field":"y","type":"quantitative"},"y2":{"field":"y2"}}},
{"data":{"name":"curves"},"mark":{"type":"line","strokeWidth":3.4,"interpolate":"monotone","strokeCap":"butt"},
 "encoding":{"x":{"field":"x","type":"quantitative"},"y":{"field":"y","type":"quantitative"},
 "color":{"field":"s","type":"nominal","legend":null,"scale":{"domain":["Compatible Reward","Compatible Neutral","Compatible Punishment","Undefined Reward","Undefined Neutral","Undefined Punishment","Incompatible Reward","Incompatible Neutral","Incompatible Punishment"],"range":["#bdbdbd","#bdbdbd","#bdbdbd","#7f7f7f","#7f7f7f","#7f7f7f","#000000","#000000","#000000"]}},
 "strokeDash":{"field":"s","type":"nominal","legend":null,"scale":{"domain":["Compatible Reward","Compatible Neutral","Compatible Punishment","Undefined Reward","Undefined Neutral","Undefined Punishment","Incompatible Reward","Incompatible Neutral","Incompatible Punishment"],"range":[[6,4],[1,0],[3,10,3,10,16,9,16,9,16,10],[3.5,3.5],[1,0],[3,10,3,10,16,9,16,9,16,10],[3.5,3.5],[1,0],[3,10,3,10,16,9,16,9,16,10]]}}}},
{"data":{"name":"keys"},"mark":{"type":"line","strokeWidth":4.5,"strokeCap":"butt"},
 "encoding":{"x":{"field":"x","type":"quantitative"},"y":{"field":"y","type":"quantitative"},
 "color":{"field":"s","type":"nominal","legend":null},"strokeDash":{"field":"s","type":"nominal","legend":null}}},
{"data":{"values":[{"x":215.2,"x2":315.2,"y":2.104,"y2":2.104},{"x":315.2,"x2":315.2,"y":2.104,"y2":2.074},{"x":215.2,"x2":215.2,"y":2.104,"y2":1.104},{"x":215.2,"x2":218.8,"y":1.104,"y2":1.104}]},
 "mark":{"type":"rule","color":"#333333","strokeWidth":1.2},
 "encoding":{"x":{"field":"x","type":"quantitative"},"x2":{"field":"x2"},"y":{"field":"y","type":"quantitative"},"y2":{"field":"y2"}}},
{"data":{"values":[{"x":-2.2,"x2":679.0,"y":-1.269,"y2":-1.269},{"x":-2.2,"x2":-2.2,"y":-1.269,"y2":-3.3201},{"x":679.0,"x2":679.0,"y":-1.269,"y2":-3.3201}]},
 "mark":{"type":"rule","color":"#a6a6a6","strokeWidth":1.5},
 "encoding":{"x":{"field":"x","type":"quantitative"},"x2":{"field":"x2"},"y":{"field":"y","type":"quantitative"},"y2":{"field":"y2"}}},
{"data":{"values":[{"x":154.3,"x2":655.8,"y":-1.586,"y2":-1.586},{"x":154.3,"x2":154.3,"y":-1.586,"y2":-3.212}]},
 "mark":{"type":"rule","color":"#b4b4b4","strokeWidth":1.5},
 "encoding":{"x":{"field":"x","type":"quantitative"},"x2":{"field":"x2"},"y":{"field":"y","type":"quantitative"},"y2":{"field":"y2"}}},
{"data":{"values":[{"x":258.7,"y":2.147,"t":"100 ms"},{"x":226.1,"y":-1.496,"t":"Reward"},{"x":407.2,"y":-1.496,"t":"Neutral"},{"x":592.0,"y":-1.496,"t":"Punishment"}]},
 "mark":{"type":"text","font":"Liberation Sans","fontSize":31,"color":"#000000","align":"center","baseline":"alphabetic"},
 "encoding":{"x":{"field":"x","type":"quantitative"},"y":{"field":"y","type":"quantitative"},"text":{"field":"t"}}},
{"data":{"values":[{"x":13.8,"y":-1.926,"t":"Incompatible"},{"x":13.8,"y":-2.533,"t":"Undefined"},{"x":13.8,"y":-3.088,"t":"Compatible"}]},
 "mark":{"type":"text","font":"Liberation Sans","fontSize":31,"color":"#000000","align":"left","baseline":"alphabetic"},
 "encoding":{"x":{"field":"x","type":"quantitative"},"y":{"field":"y","type":"quantitative"},"text":{"field":"t"}}},
{"data":{"values":[{"x":205.1,"y":1.640,"t":"1.00 µV"}]},
 "mark":{"type":"text","font":"Liberation Sans","fontSize":31,"color":"#000000","align":"center","baseline":"alphabetic","angle":270},
 "encoding":{"x":{"field":"x","type":"quantitative"},"y":{"field":"y","type":"quantitative"},"text":{"field":"t"}}}
]
}
